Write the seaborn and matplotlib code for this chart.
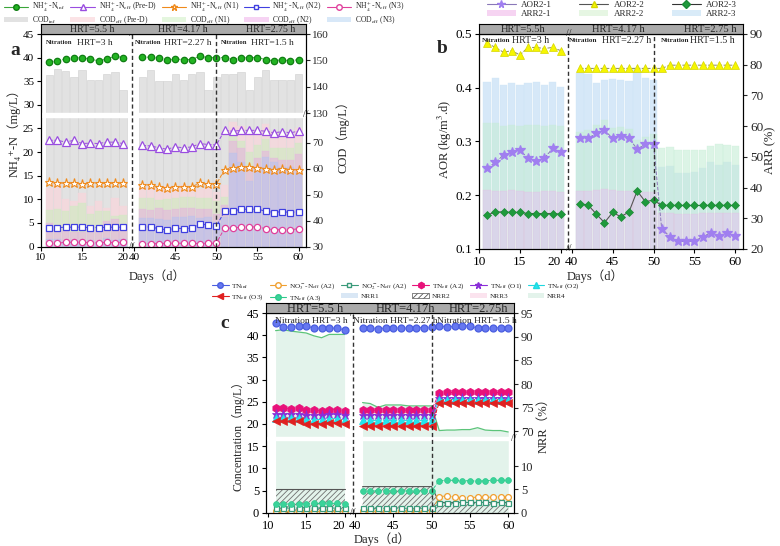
import numpy as np
import pandas as pd
import matplotlib
matplotlib.use("Agg")
import matplotlib.pyplot as plt
import matplotlib.transforms as mtrans
from matplotlib.patches import Patch
from matplotlib.lines import Line2D
import seaborn as sns

sns.set_style("ticks")
plt.rcParams["font.family"] = ["Liberation Serif", "DejaVu Serif", "Noto Sans CJK SC"]
plt.rcParams["mathtext.fontset"] = "stix"
plt.rcParams["axes.edgecolor"] = "black"
plt.rcParams["axes.linewidth"] = 0.8
plt.rcParams["hatch.linewidth"] = 0.6

# ---------------- data ----------------
days = [11, 12, 13, 14, 15, 16, 17, 18, 19, 20,
        41, 42, 43, 44, 45, 46, 47, 48, 49, 50,
        51, 52, 53, 54, 55, 56, 57, 58, 59, 60]
xtick_days = [10, 15, 20, 40, 45, 50, 55, 60]

# panel a : NH4+-N (mg/L)
nh4_inf = [39.1, 39.3, 39.7, 40.0, 40.0, 39.7, 39.3, 39.7, 40.3, 40.0,
           40.1, 40.1, 39.9, 39.5, 39.7, 39.6, 39.6, 40.3, 40.0, 40.0,
           40.0, 39.6, 40.0, 40.0, 40.0, 39.6, 39.3, 39.6, 39.3, 39.6]
nh4_pred = [22.5, 22.5, 22.1, 22.5, 21.8, 21.9, 21.8, 22.1, 22.1, 21.8,
            21.4, 21.3, 20.9, 20.6, 21.1, 20.9, 21.1, 21.8, 21.6, 21.5,
            24.6, 24.4, 24.6, 24.6, 24.6, 24.4, 24.1, 24.3, 24.1, 24.4]
nh4_n1 = [13.6, 13.5, 13.4, 13.4, 13.3, 13.4, 13.4, 13.4, 13.4, 13.4,
          13.0, 13.0, 12.6, 12.4, 12.7, 12.6, 12.7, 13.4, 13.2, 13.2,
          16.3, 16.7, 16.8, 16.8, 16.7, 16.5, 16.3, 16.5, 16.3, 16.3]
nh4_n2 = [4.0, 4.0, 4.1, 4.1, 4.1, 4.0, 4.0, 4.1, 4.1, 4.1,
          4.2, 4.1, 3.8, 3.5, 3.9, 3.8, 3.9, 4.8, 4.5, 4.3,
          7.5, 7.5, 7.9, 7.9, 7.9, 7.5, 7.2, 7.4, 7.2, 7.4]
nh4_n3 = [0.7, 0.7, 0.9, 0.9, 0.9, 0.8, 0.8, 0.9, 0.8, 0.9,
          0.6, 0.6, 0.6, 0.7, 0.7, 0.7, 0.7, 0.6, 0.7, 0.7,
          3.9, 3.9, 4.1, 4.2, 4.1, 3.8, 3.5, 3.6, 3.5, 3.8]
# panel a : COD (mg/L)
cod_inf = [144.6, 146.9, 145.9, 143.9, 146.4, 142.7, 142.7, 144.9, 145.7, 138.9,
           143.8, 146.2, 142.3, 142.3, 144.9, 142.6, 144.9, 145.7, 138.7, 143.6,
           144.9, 144.9, 145.5, 138.7, 143.8, 146.2, 142.6, 142.6, 142.6, 144.9]
cod_pred = [52.4, 54.0, 48.2, 47.5, 50.5, 45.5, 47.5, 44.9, 48.5, 45.5,
            53.5, 53.0, 52.5, 53.2, 52.8, 53.5, 53.0, 52.2, 52.5, 51.0,
            53.7, 77.9, 76.4, 73.0, 74.7, 77.3, 74.1, 72.8, 72.8, 75.6]
cod_n1 = [44.0, 44.4, 43.5, 45.5, 46.7, 42.5, 43.8, 43.5, 41.8, 42.2,
          48.5, 48.8, 48.0, 48.2, 48.5, 48.9, 49.2, 48.5, 48.8, 47.5,
          49.0, 73.1, 70.6, 66.5, 69.0, 71.3, 67.8, 67.8, 67.8, 70.0]
cod_n2 = [38.9, 37.8, 35.8, 35.5, 35.5, 36.5, 36.2, 40.0, 40.7, 37.6,
          44.6, 44.2, 44.8, 44.0, 44.5, 44.8, 45.0, 44.4, 44.6, 42.5,
          46.0, 70.6, 67.8, 60.8, 64.2, 66.8, 64.0, 63.3, 63.3, 65.5]
cod_n3 = [32.9, 32.7, 32.2, 32.4, 32.2, 32.5, 31.8, 33.3, 32.4, 32.7,
          40.8, 41.0, 40.5, 40.2, 41.2, 41.5, 41.8, 41.0, 41.2, 39.5,
          41.5, 65.9, 62.7, 55.1, 60.8, 64.6, 62.7, 60.8, 60.8, 58.3]
cod_ticks_low = [30, 40, 50, 60, 70]
cod_ticks_high = [130, 140, 150, 160]

# panel b
aor21 = [0.251, 0.261, 0.275, 0.280, 0.284, 0.269, 0.264, 0.269, 0.287, 0.280,
         0.306, 0.306, 0.315, 0.321, 0.306, 0.310, 0.306, 0.286, 0.295, 0.295,
         0.138, 0.123, 0.114, 0.114, 0.114, 0.123, 0.130, 0.124, 0.129, 0.124]
aor22 = [0.483, 0.475, 0.466, 0.469, 0.461, 0.475, 0.475, 0.473, 0.475, 0.469,
         0.436, 0.436, 0.436, 0.436, 0.436, 0.436, 0.436, 0.436, 0.436, 0.436,
         0.436, 0.442, 0.442, 0.442, 0.442, 0.442, 0.442, 0.442, 0.442, 0.442]
aor23 = [0.163, 0.169, 0.169, 0.168, 0.168, 0.166, 0.166, 0.166, 0.166, 0.165,
         0.184, 0.182, 0.165, 0.149, 0.168, 0.160, 0.169, 0.208, 0.188, 0.191,
         0.181, 0.181, 0.181, 0.181, 0.181, 0.181, 0.181, 0.181, 0.181, 0.181]
arr21 = [39.2, 39.0, 39.0, 39.3, 39.0, 38.6, 38.6, 38.8, 38.8, 38.6,
         39.0, 39.0, 39.2, 39.5, 39.2, 39.0, 39.0, 39.2, 38.6, 38.6,
         31.8, 31.8, 31.5, 31.5, 31.5, 31.8, 31.8, 31.8, 31.8, 31.8]
arr22 = [61.1, 60.9, 60.0, 60.4, 60.0, 60.4, 60.4, 60.0, 60.4, 60.0,
         58.2, 58.8, 60.4, 62.0, 59.3, 59.6, 59.0, 55.5, 56.6, 57.4,
         52.8, 53.3, 52.2, 52.2, 52.2, 52.2, 53.5, 54.2, 53.9, 53.5]
arr23 = [74.5, 75.6, 73.5, 74.0, 73.5, 74.2, 74.5, 73.5, 74.5, 72.9,
         77.2, 77.0, 74.2, 75.0, 75.3, 75.0, 74.8, 78.9, 75.6, 75.0,
         46.8, 47.0, 44.9, 44.9, 45.2, 46.3, 48.4, 47.4, 48.4, 47.4]

# panel c (mg/L)
tn_inf = [42.8, 41.9, 41.9, 42.1, 42.1, 41.6, 41.6, 41.6, 41.6, 41.2,
          41.7, 41.6, 41.5, 41.6, 41.7, 41.7, 41.6, 41.7, 41.7, 41.8,
          42.0, 41.9, 42.0, 42.1, 42.1, 41.6, 41.6, 41.7, 41.7, 41.6]
no3_a2 = [0.3, 0.3, 0.3, 0.3, 0.3, 0.3, 0.3, 0.3, 0.3, 0.3,
          0.3, 0.3, 0.3, 0.3, 0.3, 0.3, 0.3, 0.3, 0.3, 0.3,
          3.6, 3.8, 3.5, 3.4, 3.4, 3.5, 3.5, 3.5, 3.6, 3.6]
no2_a2 = [1.1, 1.1, 1.0, 1.1, 1.1, 1.0, 1.1, 1.1, 1.0, 1.1,
          1.0, 1.0, 1.0, 1.0, 1.0, 1.0, 1.0, 1.0, 1.0, 1.0,
          2.1, 2.2, 2.2, 2.3, 2.3, 2.3, 2.3, 2.2, 2.3, 2.1]
tn_a2 = [23.5, 23.6, 23.3, 23.6, 23.1, 23.1, 22.9, 23.2, 23.2, 22.9,
         23.1, 23.1, 23.1, 23.1, 23.1, 23.1, 23.1, 23.2, 23.2, 23.1,
         27.0, 27.1, 27.1, 27.1, 27.2, 27.1, 27.1, 27.1, 27.1, 27.1]
tn_o1 = [22.3, 22.3, 22.3, 22.3, 22.1, 22.1, 22.1, 22.2, 22.2, 22.1,
         22.1, 22.1, 22.1, 22.1, 22.1, 22.1, 22.1, 22.1, 22.1, 22.1,
         25.9, 25.9, 25.9, 25.9, 25.9, 25.9, 25.9, 25.9, 25.9, 25.9]
tn_o2 = [21.3, 21.3, 21.3, 21.4, 21.0, 21.0, 21.0, 21.2, 21.2, 21.0,
         20.8, 20.8, 20.8, 20.8, 20.8, 20.8, 20.8, 20.8, 20.8, 20.8,
         25.5, 25.5, 25.5, 25.5, 25.5, 25.5, 25.5, 25.5, 25.5, 25.5]
tn_o3 = [20.6, 20.6, 20.6, 20.6, 20.1, 20.1, 20.1, 20.3, 20.3, 20.1,
         19.6, 19.6, 19.6, 19.6, 19.6, 19.6, 19.6, 19.6, 19.6, 19.6,
         24.8, 24.8, 24.8, 24.8, 24.8, 24.8, 24.8, 24.8, 24.8, 24.8]
tn_a3 = [1.9, 1.9, 2.0, 2.0, 2.0, 2.1, 2.1, 2.1, 2.1, 2.0,
         4.9, 4.9, 4.9, 4.9, 4.9, 4.9, 4.9, 4.9, 4.9, 4.9,
         7.2, 7.3, 7.3, 7.2, 7.2, 7.1, 7.2, 7.3, 7.3, 7.3]
nrr4 = [91.3, 91.5, 91.2, 91.0, 90.8, 90.2, 89.8, 90.5, 90.5, 90.5,
        76.1, 75.9, 75.1, 75.6, 75.6, 75.6, 75.4, 75.4, 75.4, 75.4,
        70.2, 70.3, 70.3, 70.4, 70.4, 70.8, 70.3, 70.2, 70.2, 69.9]
nrr2 = [5.0, 5.0, 5.0, 5.0, 5.0, 5.0, 5.0, 5.0, 5.0, 5.0,
        5.6, 5.6, 5.6, 5.6, 5.6, 5.6, 5.6, 5.6, 5.6, 5.6,
        2.2, 2.2, 2.2, 2.2, 2.2, 2.2, 2.2, 2.2, 2.2, 2.2]
nrr_ticks_low = [0, 5, 10]
nrr_ticks_high = [70, 75, 80, 85, 90, 95]

hrt_top = ["HRT=5.5 h", "HRT=4.17 h", "HRT=2.75 h"]
hrt_in = ["HRT=3 h", "HRT=2.27 h", "HRT=1.5 h"]

# ---------------- helpers ----------------
SHIFT = 18.65          # broken x axis: days >= 40 are drawn shifted left


def xmap(d):
    d = np.asarray(d, dtype=float)
    return np.where(d > 30, d - SHIFT, d)


X = xmap(days)
XT = xmap(xtick_days)
SEGS = [slice(0, 10), slice(10, 30)]


def cod_to_left(c):
    c = np.asarray(c, dtype=float)
    return np.where(c < 100, (c - 30) * 0.55, 28.2 + (c - 130) * 0.56)


def nrr_to_left(n):
    n = np.asarray(n, dtype=float)
    return np.where(n < 40, n * 1.05, 18.3 + (n - 70) * 1.067)


def series(ax, y, color, marker, mfc, ms, ls="--", lw=0.7, lc=None, mew=0.9, z=6):
    df = pd.DataFrame({"x": X, "y": np.asarray(y, dtype=float)})
    for s in SEGS:
        sns.lineplot(data=df.iloc[s], x="x", y="y", ax=ax, color=lc or color,
                     marker=marker, markerfacecolor=mfc, markeredgecolor=color,
                     markersize=ms, markeredgewidth=mew, linestyle=ls, linewidth=lw,
                     errorbar=None, legend=False, zorder=z)


def bars(ax, h, color, alpha, ec=None, lw=0.3, z=2):
    sns.barplot(x=X, y=np.asarray(h, dtype=float), ax=ax, native_scale=True, orient="x",
                width=0.9, color=color, alpha=alpha, saturation=1, errorbar=None,
                edgecolor=ec or color, linewidth=lw, zorder=z, legend=False)


def style_x(ax, xlim, fs, break_x, day50, split=False):
    ax.set_xlim(*xlim)
    ax.set_xticks(XT)
    ax.set_xticklabels([str(d) for d in xtick_days])
    ax.tick_params(axis="both", direction="out", length=3, width=0.8, labelsize=fs,
                   colors="black", pad=2)
    if split:
        ax.get_xticklabels()[2].set_horizontalalignment("right")
    ax.axvline(break_x, ls=(0, (3, 2)), color="#333333", lw=1.0, zorder=7)
    ax.axvline(day50, ls=(0, (3, 2)), color="#333333", lw=1.0, zorder=7)
    tr = mtrans.blended_transform_factory(ax.transData, ax.transAxes)
    for yy in (0.0, 1.0):
        ax.text(break_x, yy, "//", transform=tr, ha="center", va="center",
                fontsize=7, clip_on=False, zorder=12)


def header(fig, rect, xlim, xs, labels, fs):
    h = fig.add_axes(rect)
    h.set_facecolor("#aaaaaa")
    h.set_xlim(*xlim)
    h.set_ylim(0, 1)
    h.set_xticks([])
    h.set_yticks([])
    for s in h.spines.values():
        s.set_linewidth(0.8)
    for x, t in zip(xs, labels):
        h.text(x, 0.42, t, ha="center", va="center", fontsize=fs)
    return h


def interleave(a, b):
    out = []
    for p, q in zip(a, b):
        out += [p, q]
    return out


fig = plt.figure(figsize=(7.8, 5.46), dpi=100)
W, H = 780.0, 546.0


def rect(l, r, t, b):
    return [l / W, 1 - b / H, (r - l) / W, (b - t) / H]


# ======================= panel a =======================
axa = fig.add_axes(rect(41, 305.5, 34, 246.5))
xlim_a = (10, 42.2)
bars(axa, cod_to_left(cod_inf), "#e2e2e2", 1.0, ec="#cfcfcf", lw=0.4, z=1)
bars(axa, cod_to_left(cod_pred), "#f8d6dc", 0.75, z=2)
bars(axa, cod_to_left(cod_n1), "#ccecc0", 0.6, z=2)
bars(axa, cod_to_left(cod_n2), "#e6b0e0", 0.55, z=2)
bars(axa, cod_to_left(cod_n3), "#b9c2ee", 0.6, z=2)
axa.axhspan(27.5, 28.2, color="white", zorder=4)

series(axa, nh4_inf, "#0f7d12", "o", "#22b322", 4.6, ls="--", lw=0.6, lc="#3aa63a")
series(axa, nh4_pred, "#9a4de0", "^", "white", 5.2)
series(axa, nh4_n1, "#ef8a1c", "*", "white", 6.5, mew=0.8)
series(axa, nh4_n2, "#4040e0", "s", "white", 4.0)
series(axa, nh4_n3, "#e0409c", "o", "white", 4.5)

axa.set_ylim(0, 45)
axa.set_yticks([0, 5, 10, 15, 20, 25, 30, 35, 40, 45])
style_x(axa, xlim_a, 8, 21.1, xmap([50])[0])
axa.set_xlabel("Days（d）", fontsize=9)
axa.xaxis.set_label_coords(0.44, -0.105)
axa.set_ylabel("NH₄⁺-N（mg/L）", fontsize=9)
axa.yaxis.set_label_coords(-0.076, 0.55)

axa2 = axa.twinx()
axa2.set_ylim(0, 45)
cod_ticks = cod_ticks_low + cod_ticks_high
axa2.set_yticks(cod_to_left(cod_ticks))
axa2.set_yticklabels([str(t) for t in cod_ticks])
axa2.tick_params(axis="y", direction="out", length=3, width=0.8, labelsize=8, pad=2)
axa2.set_ylabel("COD（mg/L）", fontsize=9)
axa2.yaxis.set_label_coords(1.115, 0.53)
axa2.text(1.0, 27.85, "//", transform=mtrans.blended_transform_factory(axa2.transAxes, axa2.transData),
          ha="center", va="center", fontsize=7, clip_on=False)

for xn, xh, t in zip([10.6, 21.45, 31.9], [14.4, 25.0, 35.6], hrt_in):
    axa.text(xn, 43.1, "Nitration", fontsize=4.8, fontweight="bold", va="center", zorder=10)
    axa.text(xh, 43.1, t, fontsize=6.8, va="center", zorder=10)
header(fig, rect(41, 305.5, 24, 34), xlim_a, [16.2, 27.3, 38.0], hrt_top, 7.2)
fig.text(10 / W, 1 - 55 / H, "a", fontsize=14, fontweight="bold")

ha_lines = [
    Line2D([0], [0], color="#3aa63a", marker="o", mfc="#22b322", mec="#0f7d12", ms=4, lw=0.8),
    Line2D([0], [0], color="#9a4de0", marker="^", mfc="white", mec="#9a4de0", ms=4, lw=0.8),
    Line2D([0], [0], color="#ef8a1c", marker="*", mfc="white", mec="#ef8a1c", ms=5, lw=0.8),
    Line2D([0], [0], color="#4040e0", marker="s", mfc="white", mec="#4040e0", ms=3.5, lw=0.8),
    Line2D([0], [0], color="#e0409c", marker="o", mfc="white", mec="#e0409c", ms=4, lw=0.8),
]
la_lines = [r"NH$_4^+$-N$_{\rm inf}$", r"NH$_4^+$-N$_{\rm eff}$ (Pre-D)",
            r"NH$_4^+$-N$_{\rm eff}$ (N1)", r"NH$_4^+$-N$_{\rm eff}$ (N2)",
            r"NH$_4^+$-N$_{\rm eff}$ (N3)"]
ha_p = [Patch(facecolor=c, edgecolor="none") for c in
        ["#e2e2e2", "#fbe3e6", "#e4f6de", "#f6d3f3", "#d8e8f8"]]
la_p = [r"COD$_{\rm inf}$", r"COD$_{\rm eff}$ (Pre-D)", r"COD$_{\rm eff}$ (N1)",
        r"COD$_{\rm eff}$ (N2)", r"COD$_{\rm eff}$ (N3)"]
fig.legend(interleave(ha_lines, ha_p), interleave(la_lines, la_p), loc="upper left",
           bbox_to_anchor=(4 / W, 1 - 0.2 / H, 400 / W, 0), mode="expand", ncol=5,
           frameon=False, fontsize=5.5, handlelength=3.2, handletextpad=0.5,
           borderaxespad=0, borderpad=0, labelspacing=0.02, columnspacing=0.5)

# ======================= panel b =======================
axb = fig.add_axes(rect(479, 743, 34, 249))
xlim_b = (10, 42.3)
axb2 = axb.twinx()
bars(axb2, arr23, "#cfe5f7", 0.85, z=2)
bars(axb2, arr22, "#c6edd6", 0.6, z=2)
bars(axb2, arr21, "#e4c4ee", 0.55, ec="#e8b8d8", z=2)
axb2.set_ylim(20, 90)
axb2.set_yticks([20, 30, 40, 50, 60, 70, 80, 90])
axb2.tick_params(axis="y", direction="out", length=3, width=0.8, labelsize=9.5, pad=2)
axb2.set_ylabel("ARR (%)", fontsize=9)
axb2.yaxis.set_label_coords(1.08, 0.46)
axb.set_zorder(axb2.get_zorder() + 1)
axb.patch.set_visible(False)

series(axb, aor21, "#a07ff0", "*", "#a07ff0", 7, ls="--", lw=0.7, lc="#8a78b8")
series(axb, aor22, "#d6d600", "^", "#f6f600", 5.5, ls="--", lw=0.7, lc="#8a8a60", mew=0.5)
series(axb, aor23, "#1b8a36", "D", "#1f9a3c", 4.5, ls="-", lw=0.8, lc="#555555", mew=0.5)
axb.set_ylim(0.1, 0.5)
axb.set_yticks([0.1, 0.2, 0.3, 0.4, 0.5])
style_x(axb, xlim_b, 9.5, 20.95, xmap([50])[0], split=True)
axb2.set_xlim(*xlim_b)
axb.set_xlabel("Days（d）", fontsize=9)
axb.xaxis.set_label_coords(0.44, -0.093)
axb.set_ylabel("AOR (kg/m$^3$.d)", fontsize=9)
axb.yaxis.set_label_coords(-0.095, 0.51)
for xn, xh, t in zip([10.3, 20.95, 32.3], [14.0, 25.1, 35.8], hrt_in):
    axb.text(xn, 0.488, "Nitration", fontsize=5.2, fontweight="bold", va="center", zorder=10)
    axb.text(xh, 0.488, t, fontsize=7.2, va="center", zorder=10)
header(fig, rect(479, 743, 24, 34), xlim_b, [15.4, 27.0, 38.3],
       ["HRT=5.5h", "HRT=4.17 h", "HRT=2.75 h"], 7.6)
fig.text(437 / W, 1 - 53 / H, "b", fontsize=14, fontweight="bold")

hb_lines = [
    Line2D([0], [0], color="#8a78b8", marker="*", mfc="#a07ff0", mec="#a07ff0", ms=5.5, lw=0.8),
    Line2D([0], [0], color="#555555", marker="^", mfc="#f6f600", mec="#d6d600", ms=4.5, lw=0.8),
    Line2D([0], [0], color="#333333", marker="D", mfc="#1f9a3c", mec="#1b8a36", ms=4, lw=0.8),
]
hb_p = [Patch(facecolor=c, edgecolor="none") for c in ["#f6d4f2", "#e6f6e3", "#d9ebf8"]]
fig.legend(interleave(hb_lines, hb_p),
           interleave(["AOR2-1", "AOR2-2", "AOR2-3"], ["ARR2-1", "ARR2-2", "ARR2-3"]),
           loc="upper left", bbox_to_anchor=(487 / W, 1 - 0.5 / H, 250 / W, 0),
           mode="expand", ncol=3, frameon=False, fontsize=6.5, handlelength=3.2,
           handletextpad=0.6, borderaxespad=0, borderpad=0, labelspacing=0.15)

# ======================= panel c =======================
axc = fig.add_axes(rect(266, 514, 313, 512.7))
xlim_c = (9.75, 42.1)
for s in SEGS:
    axc.fill_between(X[s], 0, nrr_to_left(nrr4)[s], color="#e3f3eb", lw=0, zorder=1)
    axc.plot(X[s], nrr_to_left(nrr4)[s], color="#5cc47a", lw=0.9, zorder=3)
    axc.fill_between(X[s], 0, nrr_to_left(nrr2)[s], facecolor="none", hatch="//////",
                     edgecolor="#6f6f6f", lw=0, zorder=2)
    axc.plot(X[s], nrr_to_left(nrr2)[s], color="#555555", lw=0.8, zorder=3)
axc.axhspan(16.4, 17.1, color="white", zorder=4)

series(axc, tn_inf, "#4a5ee0", "o", "#6678f0", 5, ls="--", lw=0.6)
series(axc, no3_a2, "#f0a030", "o", "white", 4.2)
series(axc, no2_a2, "#3a9a7a", "s", "white", 3.6)
series(axc, tn_a3, "#2ec98c", "o", "#3ad39a", 4.2, mew=0.5)
series(axc, tn_a2, "#e8127a", "h", "#e8127a", 6, mew=0.5)
series(axc, tn_o1, "#8a2ed8", "*", "#8a2ed8", 6.5, mew=0.5)
series(axc, tn_o2, "#1ed8e0", "^", "#22e6ee", 5.5, mew=0.5)
series(axc, tn_o3, "#e02020", "<", "#e02020", 5.5, mew=0.5)

axc.set_ylim(0, 45)
axc.set_yticks([0, 5, 10, 15, 20, 25, 30, 35, 40, 45])
style_x(axc, xlim_c, 9, 21.1, xmap([50])[0], split=True)
axc.set_xlabel("Days（d）", fontsize=9)
axc.xaxis.set_label_coords(0.47, -0.097)
axc.set_ylabel("Concentration（mg/L）", fontsize=8.5)
axc.yaxis.set_label_coords(-0.085, 0.40)

axc2 = axc.twinx()
axc2.set_ylim(0, 45)
nrr_ticks = nrr_ticks_low + nrr_ticks_high
axc2.set_yticks(nrr_to_left(nrr_ticks))
axc2.set_yticklabels([str(t) for t in nrr_ticks])
axc2.tick_params(axis="y", direction="out", length=3, width=0.8, labelsize=9, pad=2)
axc2.set_ylabel("NRR（%）", fontsize=9)
axc2.yaxis.set_label_coords(1.093, 0.45)
axc2.text(1.0, 16.75, "//", transform=mtrans.blended_transform_factory(axc2.transAxes, axc2.transData),
          ha="center", va="center", fontsize=7, clip_on=False)
for xn, t in zip([10.9, 21.15, 32.0], hrt_in):
    axc.text(xn, 43.2, "Nitration " + t, fontsize=6.8, va="center", zorder=10)
header(fig, rect(266, 514, 303, 313), xlim_c, [16.1, 27.9, 37.4],
       ["HRT=5.5 h", "HRT=4.17h", "HRT=2.75h"], 9)
fig.text(220 / W, 1 - 328 / H, "c", fontsize=14, fontweight="bold")

hc_r1 = [
    Line2D([0], [0], color="#4a5ee0", marker="o", mfc="#6678f0", mec="#4a5ee0", ms=4, lw=0.8),
    Line2D([0], [0], color="#f0a030", marker="o", mfc="white", mec="#f0a030", ms=4, lw=0.8),
    Line2D([0], [0], color="#3a9a7a", marker="s", mfc="white", mec="#3a9a7a", ms=3.5, lw=0.8),
    Line2D([0], [0], color="#e8127a", marker="h", mfc="#e8127a", mec="#e8127a", ms=4.5, lw=0.8),
    Line2D([0], [0], color="#8a2ed8", marker="*", mfc="#8a2ed8", mec="#8a2ed8", ms=5, lw=0.8),
    Line2D([0], [0], color="#1ed8e0", marker="^", mfc="#22e6ee", mec="#1ed8e0", ms=4, lw=0.8),
]
hc_r2 = [
    Line2D([0], [0], color="#e02020", marker="<", mfc="#e02020", mec="#e02020", ms=4, lw=0.8),
    Line2D([0], [0], color="#2ec98c", marker="o", mfc="#3ad39a", mec="#2ec98c", ms=4, lw=0.8),
    Patch(facecolor="#d9e7f5", edgecolor="none"),
    Patch(facecolor="white", edgecolor="#555555", hatch="//////", lw=0.5),
    Patch(facecolor="#fbe3ee", edgecolor="none"),
    Patch(facecolor="#e3f3eb", edgecolor="none"),
]
lc_r1 = [r"TN$_{\rm inf}$", r"NO$_3^-$-N$_{\rm eff}$ (A2)", r"NO$_2^-$-N$_{\rm eff}$ (A2)",
         r"TN$_{\rm eff}$ (A2)", r"TN$_{\rm eff}$ (O1)", r"TN$_{\rm eff}$ (O2)"]
lc_r2 = [r"TN$_{\rm eff}$ (O3)", r"TN$_{\rm eff}$ (A3)", "NRR1", "NRR2", "NRR3", "NRR4"]
fig.legend(interleave(hc_r1, hc_r2), interleave(lc_r1, lc_r2), loc="upper left",
           bbox_to_anchor=(212 / W, 1 - 281 / H, 368 / W, 0), mode="expand", ncol=6,
           frameon=False, fontsize=5.2, handlelength=2.3, handletextpad=0.4,
           borderaxespad=0, borderpad=0, labelspacing=0.2, columnspacing=0.2)

fig.savefig("out.png", dpi=100)
